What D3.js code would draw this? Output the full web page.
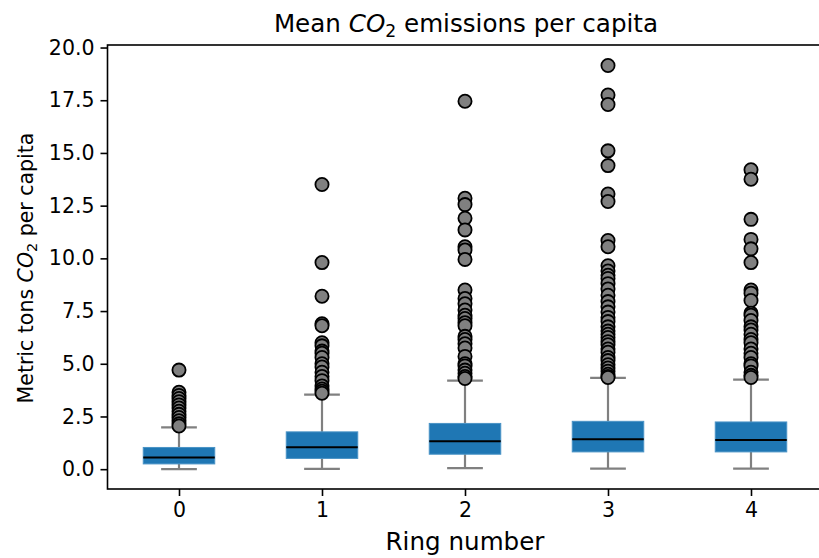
<!DOCTYPE html>
<html>
<head>
<meta charset="utf-8">
<script src="https://cdn.jsdelivr.net/npm/d3@7/dist/d3.min.js"></script>
<style>
  html, body { margin: 0; padding: 0; background: #fff; }
  svg { display: block; font-family: "DejaVu Sans", sans-serif; }
</style>
</head>
<body>
<svg id="chart" width="819" height="558"></svg>
<script>
// ---- data ----
const rings = [0, 1, 2, 3, 4];
const whiskerLow  = [0.00, 0.01, 0.05, 0.03, 0.03];
const q1          = [0.25, 0.51, 0.71, 0.82, 0.82];
const medians     = [0.55, 1.04, 1.33, 1.42, 1.39];
const q3          = [1.03, 1.77, 2.17, 2.27, 2.24];
const whiskerHigh = [1.98, 3.54, 4.20, 4.33, 4.25];
const outliers = [
  [4.7, 3.65, 3.5, 3.35, 3.2, 3.05, 2.9, 2.75, 2.6, 2.45, 2.3, 2.15, 2.05],
  [13.5, 9.8, 8.2, 6.9, 6.8, 6.0, 5.85, 5.6, 5.5, 5.3, 5.0, 4.85, 4.6, 4.4, 4.2, 3.95, 3.8, 3.7, 3.6],
  [17.45, 12.85, 12.55, 11.9, 11.35, 10.55, 10.4, 9.95, 8.5, 8.1, 7.85, 7.55, 7.3, 7.15, 6.95, 6.8,
   6.3, 6.15, 5.95, 5.75, 5.35, 5.0, 4.9, 4.7, 4.55, 4.4, 4.3],
  [19.15, 17.75, 17.3, 15.1, 14.4, 13.05, 12.7, 10.85, 10.55, 9.65, 9.4, 9.2, 9.05, 8.8, 8.55, 8.25,
   7.95, 7.7, 7.45, 7.2, 7.0, 6.75, 6.55, 6.4, 6.25, 6.05, 5.9, 5.7, 5.55, 5.3, 5.15, 4.95, 4.8,
   4.65, 4.5, 4.4, 4.35],
  [14.2, 13.75, 11.85, 10.9, 10.45, 9.8, 8.5, 8.35, 8.0, 7.4, 7.3, 7.05, 6.75, 6.6, 6.4, 6.15, 6.0,
   5.7, 5.5, 5.3, 5.0, 4.9, 4.6, 4.45, 4.35]
];
const yTicks = [0, 2.5, 5, 7.5, 10, 12.5, 15, 17.5, 20];
const xDomain = [-0.5, 4.5];
const yDomain = [-0.94, 20.12];

// ---- layout ----
const svg = d3.select("#chart");
const mLeft = 107.5, mRight = 822.5, mTop = 45, mBottom = 489;
const x = d3.scaleLinear().domain(xDomain).range([mLeft, mRight]);
const y = d3.scaleLinear().domain(yDomain).range([mBottom, mTop]);
const unit = x(1) - x(0);
const boxW = 0.5 * unit, capW = 0.25 * unit;
const tickFont = 20.5, bigFont = 24.6;

const g = svg.append("g");

// whiskers, caps, boxes, medians
rings.forEach((r, i) => {
  const cx = x(r);
  const lines = [
    [cx, y(q1[i]), cx, y(whiskerLow[i])],
    [cx, y(q3[i]), cx, y(whiskerHigh[i])],
    [cx - capW / 2, y(whiskerLow[i]), cx + capW / 2, y(whiskerLow[i])],
    [cx - capW / 2, y(whiskerHigh[i]), cx + capW / 2, y(whiskerHigh[i])]
  ];
  lines.forEach(l => g.append("line")
    .attr("x1", l[0]).attr("y1", l[1]).attr("x2", l[2]).attr("y2", l[3])
    .attr("stroke", "#808080").attr("stroke-width", 2.2));
  g.append("rect")
    .attr("x", cx - boxW / 2).attr("width", boxW)
    .attr("y", y(q3[i])).attr("height", y(q1[i]) - y(q3[i]))
    .attr("fill", "#1f77b4")
    .attr("stroke", "#4a93c6").attr("stroke-width", 1);
  g.append("line")
    .attr("x1", cx - boxW / 2).attr("x2", cx + boxW / 2)
    .attr("y1", y(medians[i])).attr("y2", y(medians[i]))
    .attr("stroke", "#000").attr("stroke-width", 2);
});

// fliers
rings.forEach((r, i) => {
  g.selectAll(null).data(outliers[i]).enter().append("circle")
    .attr("cx", x(r)).attr("cy", d => y(d)).attr("r", 6.6)
    .attr("fill", "#808080").attr("stroke", "#000").attr("stroke-width", 1.8);
});

// axes
const yAxis = d3.axisLeft(y).tickValues(yTicks).tickFormat(d3.format(".1f")).tickSizeOuter(0).tickSize(7).tickPadding(6);
const xAxis = d3.axisBottom(x).tickValues(rings).tickFormat(d3.format("d")).tickSizeOuter(0).tickSize(7).tickPadding(6);

const ya = svg.append("g").attr("transform", `translate(${mLeft},0)`).call(yAxis);
const xa = svg.append("g").attr("transform", `translate(0,${mBottom})`).call(xAxis);
[ya, xa].forEach(a => {
  a.select(".domain").remove();
  a.selectAll(".tick line").attr("stroke", "#000").attr("stroke-width", 1.6);
  a.selectAll(".tick text").attr("fill", "#000").style("font-size", tickFont + "px")
    .style("font-family", "'DejaVu Sans', sans-serif");
});

// frame
svg.append("rect").attr("x", mLeft).attr("y", mTop).attr("width", mRight - mLeft).attr("height", mBottom - mTop)
  .attr("fill", "none").attr("stroke", "#000").attr("stroke-width", 1.6);

// title
const title = svg.append("text").attr("x", 466).attr("y", 32).attr("text-anchor", "middle")
  .style("font-size", bigFont + "px").attr("fill", "#000");
title.append("tspan").text("Mean ");
title.append("tspan").style("font-style", "italic").text("CO");
title.append("tspan").attr("dy", 5).style("font-size", (bigFont * 0.7) + "px").text("2");
title.append("tspan").attr("dy", -5).text(" emissions per capita");

// x label
svg.append("text").attr("x", 465).attr("y", 550).attr("text-anchor", "middle")
  .style("font-size", bigFont + "px").attr("fill", "#000").text("Ring number");

// y label
const yl = svg.append("text").attr("transform", "translate(33,268) rotate(-90)").attr("text-anchor", "middle")
  .style("font-size", tickFont + "px").attr("fill", "#000");
yl.append("tspan").text("Metric tons ");
yl.append("tspan").style("font-style", "italic").text("CO");
yl.append("tspan").attr("dy", 4).style("font-size", (tickFont * 0.7) + "px").text("2");
yl.append("tspan").attr("dy", -4).text(" per capita");
</script>
</body>
</html>
